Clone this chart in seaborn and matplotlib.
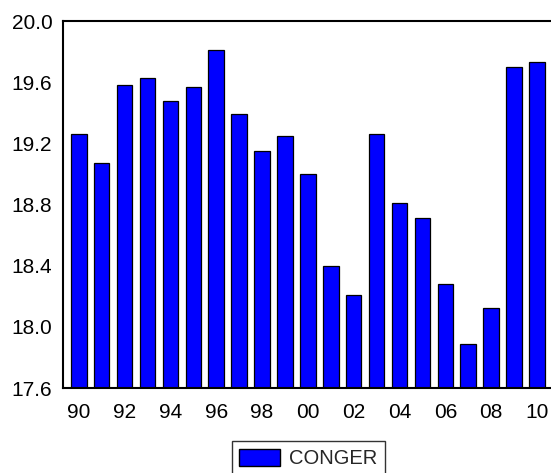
import matplotlib
matplotlib.use("Agg")
import matplotlib.pyplot as plt
import seaborn as sns
import pandas as pd
from matplotlib.patches import Patch

years = list(range(1990, 2011))
conger = [19.26, 19.07, 19.58, 19.63, 19.48, 19.57, 19.81, 19.39, 19.15, 19.25,
          19.00, 18.40, 18.21, 19.26, 18.81, 18.71, 18.28, 17.89, 18.12, 19.70, 19.73]
y_ticks = [17.6, 18.0, 18.4, 18.8, 19.2, 19.6, 20.0]

df = pd.DataFrame({"year": years, "CONGER": conger})

sns.set_theme(style="white")
plt.rcParams["font.family"] = ["Liberation Sans", "DejaVu Sans"]

fig = plt.figure(figsize=(5.51, 4.73), dpi=100)
ax = fig.add_axes([62.7 / 551, 1 - 388 / 473, 490.3 / 551, 367 / 473])

sns.barplot(data=df, x="year", y="CONGER", order=years, color="#0000FF",
            saturation=1, width=0.68, edgecolor="black", linewidth=0.9, ax=ax)

ax.set_ylim(17.6, 20.0)
ax.set_xlim(-0.70, len(years) - 1 + 0.70)
ax.set_yticks(y_ticks)
ax.set_yticklabels([f"{v:.1f}" for v in y_ticks])
ax.set_xticks(range(len(years)))
ax.set_xticklabels([f"{y % 100:02d}" if y % 2 == 0 else "" for y in years])
ax.set_xlabel("")
ax.set_ylabel("")

for s in ax.spines.values():
    s.set_visible(True)
    s.set_color("black")
    s.set_linewidth(1.5)

ax.tick_params(axis="both", direction="out", length=6, width=1, color="black",
               labelsize=15, labelcolor="black")
ax.tick_params(axis="y", pad=1.5)
ax.tick_params(axis="x", pad=5)

handle = Patch(facecolor="#0000FF", edgecolor="black", linewidth=1)
leg = fig.legend([handle], ["CONGER"], loc="upper left",
                 bbox_to_anchor=(231.7 / 551, 1 - 441 / 473),
                 fontsize=14.5, frameon=True, fancybox=False,
                 handlelength=2.0, handleheight=0.95, handletextpad=0.45,
                 borderpad=0.38, borderaxespad=0)
leg.get_frame().set_edgecolor("black")
leg.get_frame().set_linewidth(1)

fig.savefig("out.png", dpi=100)
